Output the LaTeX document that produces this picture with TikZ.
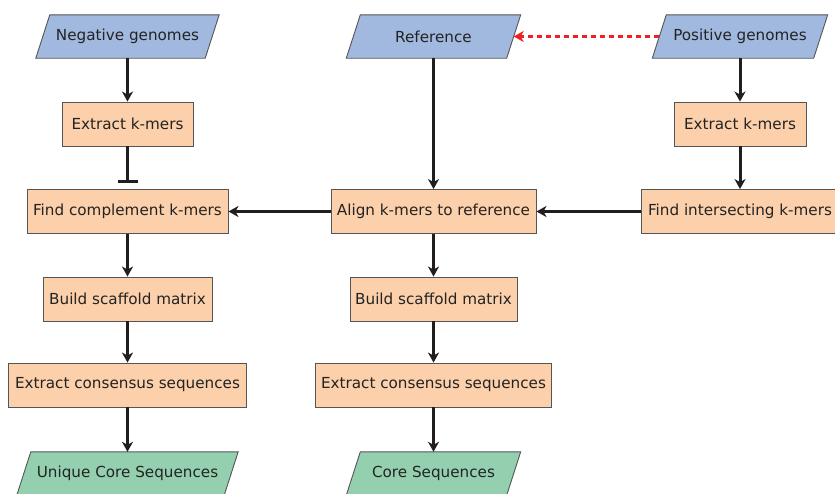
\documentclass[tikz,border=0pt]{standalone}
\usepackage{fontspec}
\setmainfont{DejaVu Sans}
\usetikzlibrary{arrows.meta}
\pgfdeclarelayer{background}
\pgfsetlayers{background,main}
\definecolor{inblue}{RGB}{161,185,222}
\definecolor{procor}{RGB}{252,208,170}
\definecolor{outgreen}{RGB}{148,208,175}
\definecolor{edgegray}{RGB}{85,85,85}
\definecolor{arrdark}{RGB}{34,30,30}
\definecolor{txtdark}{RGB}{35,35,35}
\definecolor{dotred}{RGB}{238,32,36}
\tikzset{
  proc/.style={draw=edgegray, line width=0.9pt, fill=procor, minimum height=44pt, inner xsep=2pt, text=txtdark, font=\fontsize{15.2}{18}\selectfont},
  para/.style={minimum height=43pt, inner sep=0pt, text=txtdark, font=\fontsize{15.2}{18}\selectfont},
  flow/.style={draw=arrdark, line width=3pt, -{Stealth[length=10pt,width=11pt,inset=3pt]}},
  inhib/.style={draw=arrdark, line width=3pt, -{Bar[width=20pt,line width=3pt]}, shorten >=6pt},
  dotarrow/.style={draw=dotred, line width=3pt, dash pattern=on 5pt off 4pt, -{Stealth[length=10pt,width=11pt,inset=3pt]}}
}
\newcommand{\paral}[2]{%
  \begin{pgfonlayer}{background}
  \filldraw[fill=#2, draw=edgegray, line width=0.9pt]
    ([xshift=7pt]#1.north west) -- ([xshift=7pt]#1.north east) --
    ([xshift=-7pt]#1.south east) -- ([xshift=-7pt]#1.south west) -- cycle;
  \end{pgfonlayer}}
\begin{document}
\begin{tikzpicture}[x=1pt,y=-1pt]
\useasboundingbox (0,0) rectangle (835,493);
% inputs
\node[para, minimum width=169pt] (ng) at (127.5,36.5) {Negative genomes};
\node[para, minimum width=160pt] (ref) at (433.5,36.5) {Reference};
\node[para, minimum width=161pt] (pos) at (740,36.5) {Positive genomes};
\paral{ng}{inblue}
\paral{ref}{inblue}
\paral{pos}{inblue}
% left column
\node[proc, minimum width=201pt] (ekl) at (127.5,124) [minimum width=131pt] {Extract k-mers};
\node[proc, minimum width=201pt] (fc) at (127.5,211.5) {Find complement k-mers};
\node[proc, minimum width=169pt] (bsl) at (127.5,299) {Build scaffold matrix};
\node[proc, minimum width=238pt] (ecl) at (127.5,385) {Extract consensus sequences};
\node[para, minimum width=207pt] (ucs) at (127.5,473.5) {Unique Core Sequences};
\paral{ucs}{outgreen}
% middle column
\node[proc, minimum width=205pt] (al) at (433.5,211.5) {Align k-mers to reference};
\node[proc, minimum width=167pt] (bsm) at (433.5,299) {Build scaffold matrix};
\node[proc, minimum width=236pt] (ecm) at (433.5,385) {Extract consensus sequences};
\node[para, minimum width=160pt] (cs) at (433.5,473.5) {Core Sequences};
\paral{cs}{outgreen}
% right column
\node[proc, minimum width=132pt] (ekr) at (740,124) {Extract k-mers};
\node[proc, minimum width=198pt] (fi) at (740,211.5) {Find intersecting k-mers};
% connectors
\draw[flow] (ng.south) -- (ekl.north);
\draw[inhib] (ekl.south) -- (fc.north);
\draw[flow] (fc.south) -- (bsl.north);
\draw[flow] (bsl.south) -- (ecl.north);
\draw[flow] (ecl.south) -- (ucs.north);
\draw[flow] (ref.south) -- (al.north);
\draw[flow] (al.south) -- (bsm.north);
\draw[flow] (bsm.south) -- (ecm.north);
\draw[flow] (ecm.south) -- (cs.north);
\draw[flow] (pos.south) -- (ekr.north);
\draw[flow] (ekr.south) -- (fi.north);
\draw[flow] (fi.west) -- (al.east);
\draw[flow] (al.west) -- (fc.east);
\draw[dotarrow] (pos.west) -- (ref.east);
\end{tikzpicture}
\end{document}
